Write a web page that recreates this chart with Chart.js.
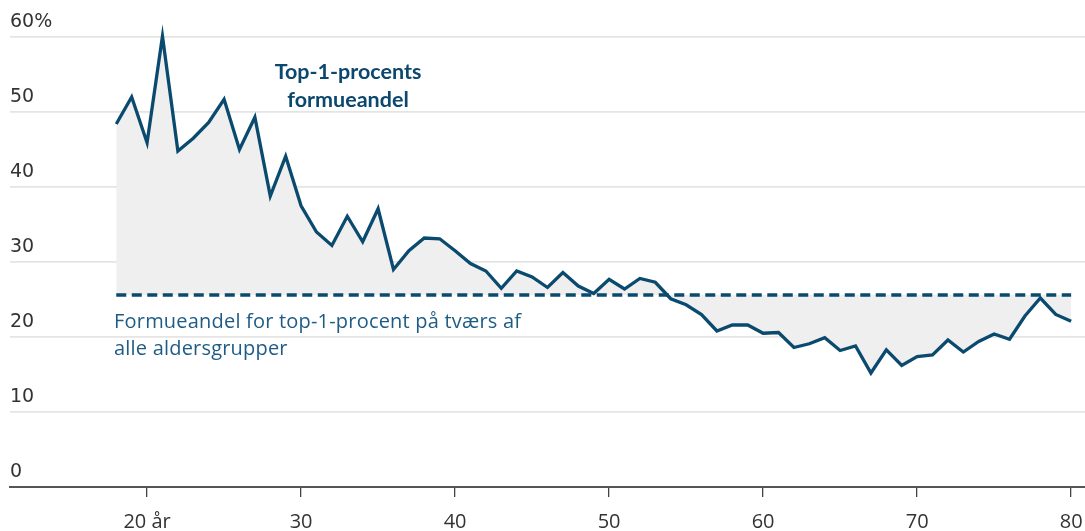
<!DOCTYPE html>
<html><head><meta charset="utf-8">
<script src="https://cdn.jsdelivr.net/npm/chart.js@4/dist/chart.umd.min.js"></script>
<style>html,body{margin:0;padding:0;background:#fff}#w{width:1085px;height:531px;position:relative}</style>
</head><body><div id="w"><canvas id="c"></canvas></div>
<script>
const ages = [18,19,20,21,22,23,24,25,26,27,28,29,30,31,32,33,34,35,36,37,38,39,40,41,42,43,44,45,46,47,48,49,50,51,52,53,54,55,56,57,58,59,60,61,62,63,64,65,66,67,68,69,70,71,72,73,74,75,76,77,78,79,80];
const top1Share = [48.4,52.0,45.9,60.1,44.8,46.5,48.6,51.7,45.0,49.3,38.8,44.1,37.5,34.0,32.2,36.1,32.7,37.1,29.0,31.5,33.2,33.1,31.5,29.8,28.8,26.5,28.8,28.0,26.6,28.6,26.8,25.8,27.7,26.4,27.8,27.3,25.1,24.3,23.0,20.8,21.6,21.6,20.5,20.6,18.6,19.1,19.9,18.2,18.8,15.2,18.3,16.2,17.4,17.6,19.6,18.0,19.4,20.4,19.7,22.8,25.2,23.0,22.1];
const overallShare = 25.6;
const xTicks = [20,30,40,50,60,70,80];
const yTicks = [0,10,20,30,40,50,60];

const navy = '#0b4a6f';
const annot = {
  id:'annot',
  afterDatasetsDraw(chart){
    const {ctx} = chart;
    ctx.save();
    ctx.fillStyle = '#0b476e';
    ctx.textAlign = 'center';
    ctx.textBaseline = 'middle';
    ctx.font = 'bold 21.5px Lato, "Open Sans", sans-serif';
    ctx.fillText('Top-1-procents', 348, 72);
    ctx.fillText('formueandel', 348, 100);
    ctx.fillStyle = '#1e5c86';
    ctx.textAlign = 'left';
    ctx.font = '20px "Open Sans", Lato, sans-serif';
    try { ctx.letterSpacing = '0.2px'; } catch(e) {}
    ctx.fillText('Formueandel for top-1-procent på tværs af', 114, 322);
    ctx.fillText('alle aldersgrupper', 114, 349);
    ctx.restore();
  }
};

new Chart(document.getElementById('c'), {
  type:'line',
  data:{
    datasets:[
      {data: ages.map((a,i)=>({x:a,y:top1Share[i]})), borderColor:navy, borderWidth:3.3, pointRadius:0, tension:0,
       borderJoinStyle:'miter', fill:{value:overallShare}, backgroundColor:'#efefef', clip:false, order:1},
      {data: [{x:ages[0],y:overallShare},{x:ages[ages.length-1],y:overallShare}], borderColor:navy, borderWidth:3.3,
       borderDash:[10,5.5], pointRadius:0, fill:false, clip:false, order:0}
    ]
  },
  options:{
    responsive:true, maintainAspectRatio:false, animation:false,
    layout:{padding:{left:10,top:37,right:0,bottom:0}},
    plugins:{legend:{display:false}, tooltip:{enabled:false}},
    scales:{
      x:{type:'linear', min:11.1, max:80.9,
        afterBuildTicks(ax){ ax.ticks = xTicks.map(v=>({value:v})); },
        afterFit(ax){ ax.paddingRight = 0; ax.paddingLeft = 0; ax.height = 44; },
        grid:{drawOnChartArea:false, drawTicks:true, tickLength:10, color:'#444', lineWidth:1.3},
        border:{display:true, color:'#555', width:2},
        ticks:{color:'#333', font:{family:'"Open Sans", Lato, sans-serif', size:20}, padding:13, maxRotation:0,
          callback:(v)=> v===20 ? '20 år' : String(v)}
      },
      y:{type:'linear', min:0, max:60,
        afterBuildTicks(ax){ ax.ticks = yTicks.map(v=>({value:v})); },
        grid:{color:'#e4e4e4', lineWidth:1.8, drawTicks:false},
        border:{display:false},
        ticks:{mirror:true, padding:0, labelOffset:-15, color:'#333',
          font:{family:'"DejaVu Sans", "Open Sans", sans-serif', size:19},
          callback:(v)=> v===60 ? '60%' : String(v)}
      }
    }
  },
  plugins:[annot]
});
</script></body></html>
